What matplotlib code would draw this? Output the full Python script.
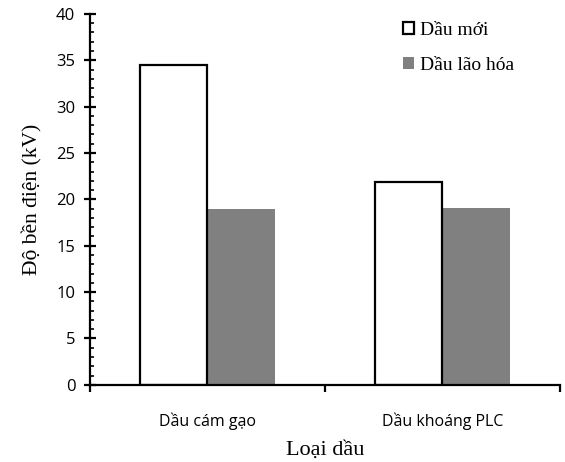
import numpy as np
from matplotlib import pyplot as plt
from matplotlib.ticker import MultipleLocator

categories = ['Dầu cám gạo', 'Dầu khoáng PLC']
new_oil = [34.5, 21.9]
aged_oil = [19.0, 19.1]
series_names = ['Dầu mới', 'Dầu lão hóa']

serif = 'Liberation Serif'
sans = 'Open Sans'

fig = plt.figure(figsize=(5.65, 4.62), dpi=100)
ax = fig.add_axes([0.159, 0.167, 0.832, 0.803])

x = np.arange(len(categories)) + 0.5
w = 0.287

b1 = ax.bar(x - w / 2, new_oil, w, color='white', edgecolor='black',
            linewidth=1.6, label=series_names[0], zorder=2)
b2 = ax.bar(x + w / 2, aged_oil, w, color='#808080', edgecolor='none',
            label=series_names[1], zorder=1)

ax.set_xlim(0, 2)
ax.set_ylim(0, 40)
ax.set_xticks([0, 1, 2])
ax.set_xticklabels([])
ax.set_xticks(x, minor=True)
ax.set_xticklabels(categories, minor=True, fontfamily=sans, fontsize=11.5)
ax.tick_params(axis='x', which='major', direction='out', length=5, width=1.6)
ax.tick_params(axis='x', which='minor', length=0, pad=20)

ax.yaxis.set_major_locator(MultipleLocator(5))
ax.yaxis.set_minor_locator(MultipleLocator(1))
ax.tick_params(axis='y', which='major', direction='inout', length=9, width=1.6, pad=6)
ax.tick_params(axis='y', which='minor', direction='in', length=3, width=1.2)
for lbl in ax.get_yticklabels():
    lbl.set_fontfamily(sans)
    lbl.set_fontsize(12)

for side in ['top', 'right']:
    ax.spines[side].set_visible(False)
for side in ['left', 'bottom']:
    ax.spines[side].set_linewidth(1.6)

ax.set_ylabel('Độ bền điện (kV)', fontfamily=serif, fontsize=15.5, labelpad=10)
ax.set_xlabel('Loại dầu', fontfamily=serif, fontsize=16, labelpad=8)

leg = ax.legend(handles=[b1, b2], loc='upper right', bbox_to_anchor=(0.94, 1.025),
                frameon=False, handlelength=0.6, handleheight=0.6,
                handletextpad=0.3, labelspacing=0.9,
                prop={'family': serif, 'size': 14})

fig.savefig('out.png', dpi=100)
